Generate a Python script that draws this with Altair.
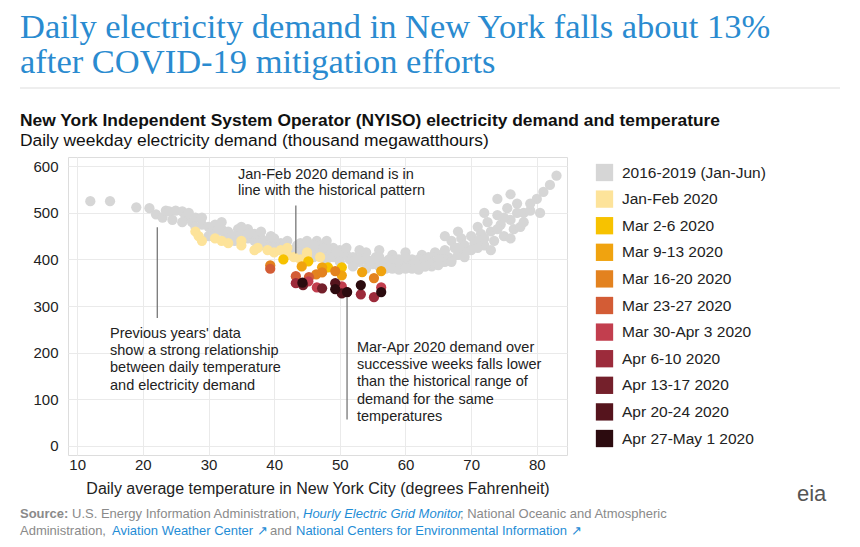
import altair as alt
import pandas as pd

groups = ["2016-2019 (Jan-Jun)", "Jan-Feb 2020", "Mar 2-6 2020", "Mar 9-13 2020", "Mar 16-20 2020",
          "Mar 23-27 2020", "Mar 30-Apr 3 2020", "Apr 6-10 2020", "Apr 13-17 2020", "Apr 20-24 2020",
          "Apr 27-May 1 2020"]
palette = ["#d6d6d6", "#fde39a", "#f7c200", "#f0a30f", "#e3821f", "#d35c35", "#c23e4e", "#9c2b3b",
           "#74202b", "#55141d", "#2c0b0f"]

gray_t = [12, 15, 19, 21, 22, 23, 23.5, 24, 25, 26, 26.5, 24.5, 27, 27.5, 28, 29, 30, 30.5, 31, 32, 32.5, 33,
          34, 34.5, 35, 36, 36.5, 37, 38, 38.5, 39, 40, 40.5, 41, 42, 43, 43.5, 44, 45, 46, 46.5, 47, 48, 48.5,
          49, 50, 51, 51.5, 52, 53, 53.5, 54, 55, 55.5, 56, 57, 58, 58.5, 59, 60, 60.5, 61, 62, 62.5, 63, 63.5,
          64, 64.5, 65, 65.5, 66, 66.5, 67, 67.5, 68, 68.5, 69, 69.5, 70, 70.5, 71, 71.5, 72, 72.5, 73, 73.5,
          74, 74.5, 75, 75.5, 76, 76.5, 77, 77.5, 78, 79, 80, 80.5, 81, 82, 83, 66, 68, 60, 56, 72, 74, 76,
          30, 31, 33, 35, 37, 39, 41, 42, 44, 45, 47, 49, 50, 52, 54, 56, 57, 59, 61, 63, 66, 71, 73, 76, 78,
          67, 69, 64, 62, 58, 53, 48, 46, 45, 38, 36, 32, 29, 26, 28, 35, 40,
          31.5, 33.5, 36, 38, 40, 42.5, 44.5, 46, 48, 50.5, 52.5, 54.5, 57.5, 60, 62, 64, 66, 68, 70, 72,
          34, 37.5, 41.5, 43, 47.5, 49.5, 55, 61.5, 65, 69, 71, 74, 75, 77, 79, 58, 63, 67, 51, 39.5,
          52, 54, 57, 59, 61, 63, 65, 60, 62, 56, 50, 48]
gray_d = [525, 525, 512, 510, 497, 490, 505, 503, 505, 503, 492, 485, 500, 480, 490, 475, 470, 460, 455, 465,
          455, 460, 450, 465, 455, 445, 450, 440, 445, 430, 440, 430, 420, 435, 425, 420, 430, 420, 425, 420,
          440, 430, 415, 410, 405, 420, 410, 400, 405, 395, 410, 400, 390, 405, 395, 395, 390, 400, 385, 395,
          390, 400, 395, 410, 390, 405, 395, 415, 410, 395, 420, 405, 440, 425, 410, 445, 430, 420, 450, 435,
          470, 455, 430, 480, 460, 440, 495, 475, 450, 510, 485, 465, 520, 470, 500, 505, 530, 500, 545, 560,
          580, 450, 460, 415, 420, 500, 530, 540,
          450, 475, 445, 440, 455, 425, 420, 440, 435, 410, 420, 425, 405, 395, 415, 405, 390, 400, 385, 400,
          395, 440, 420, 445, 480, 400, 415, 385, 385, 410, 420, 440, 405, 440, 460, 465, 480, 490, 480, 470,
          470, 445,
          465, 450, 455, 440, 425, 415, 430, 430, 425, 415, 400, 390, 400, 405, 400, 390, 400, 425, 420, 445,
          440, 435, 430, 412, 425, 415, 398, 392, 400, 405, 425, 465, 490, 500, 520, 380, 385, 395, 425, 450,
          385, 380, 380, 378, 380, 385, 388, 380, 378, 385, 395, 400]

jan_t = [28, 28.5, 29, 31, 32, 33, 35, 35, 37, 37.5, 39, 40, 41, 42, 42, 43, 44, 45, 45, 47]
jan_d = [460, 450, 440, 445, 440, 435, 430, 440, 420, 425, 420, 415, 420, 410, 425, 405, 400, 410, 415, 405]
mar2_t = [41.4, 45.2, 48.2, 50.3]
mar2_d = [400, 396, 383, 383]
mar9_t = [44.2, 47.3, 50.3, 53.4, 56.3]
mar9_d = [385, 383, 366, 373, 375]
mar16_t = [39.4, 46.4, 47.3, 49.3, 55.2]
mar16_d = [387, 368, 372, 375, 360]
mar23_t = [39.4, 43.3, 45.3]
mar23_d = [380, 364, 362]
mar30_t = [45.2, 46.5, 50.3, 56.3]
mar30_d = [353, 340, 342, 340]
apr6_t = [43.3, 51.1, 53.2, 55.2]
apr6_d = [349, 330, 325, 319]
apr13_t = [44.4, 47.3]
apr13_d = [345, 338]
apr20_t = [49.3, 50.3]
apr20_d = [349, 327]
apr27_t = [44.3, 49.3, 51.1, 53.2, 56.3]
apr27_d = [350, 336, 330, 345, 330]

series = [(gray_t, gray_d), (jan_t, jan_d), (mar2_t, mar2_d), (mar9_t, mar9_d), (mar16_t, mar16_d),
          (mar23_t, mar23_d), (mar30_t, mar30_d), (apr6_t, apr6_d), (apr13_t, apr13_d), (apr20_t, apr20_d),
          (apr27_t, apr27_d)]
rows = []
for g, (ts, ds) in zip(groups, series):
    for t, d in zip(ts, ds):
        rows.append({"group": g, "temp": t, "demand": d})
df = pd.DataFrame(rows)

FONT = "Liberation Sans"
xs = alt.Scale(domain=[8.6, 84.6], nice=False, zero=False)
ys = alt.Scale(domain=[-20, 620], nice=False, zero=False)

points = alt.Chart(df).mark_circle(size=105, opacity=1).encode(
    x=alt.X("temp:Q", scale=xs, title="Daily average temperature in New York City (degrees Fahrenheit)",
            axis=alt.Axis(values=list(range(10, 81, 10)), domain=False, ticks=False, labelFontSize=15,
                          labelColor="#222", titleFontSize=16, titleFontWeight="normal", titleColor="#222",
                          titlePadding=8, gridColor="#eaeaea", labelFont=FONT, titleFont=FONT)),
    y=alt.Y("demand:Q", scale=ys, title=None,
            axis=alt.Axis(values=list(range(0, 601, 100)), domain=False, ticks=False, labelFontSize=15,
                          labelColor="#222", gridColor="#eaeaea", labelFont=FONT, labelPadding=10)),
    color=alt.Color("group:N", scale=alt.Scale(domain=groups, range=palette), sort=groups,
                    legend=alt.Legend(title=None, orient="none", legendX=527, legendY=6, symbolType="square",
                                      symbolSize=300, labelFontSize=15.5, labelFont=FONT, labelColor="#222",
                                      rowPadding=7.6, labelOffset=8)),
)

rule_df = pd.DataFrame({"t": [22.2, 43.3, 51.1], "y1": [469, 516, 319], "y2": [274, 413, 56]})
rules = alt.Chart(rule_df).mark_rule(color="#777", strokeWidth=1.3).encode(
    x="t:Q", y="y1:Q", y2="y2:Q")

ann_df = pd.DataFrame({
    "t": [34.5] * 2 + [15] * 4 + [52.6] * 5,
    "d": [582, 548, 240, 203, 166, 129, 210, 173, 136, 99, 62],
    "txt": ["Jan-Feb 2020 demand is in", "line with the historical pattern",
            "Previous years' data", "show a strong relationship", "between daily temperature",
            "and electricity demand",
            "Mar-Apr 2020 demand over", "successive weeks falls lower", "than the historical range of",
            "demand for the same", "temperatures"],
})
ann = alt.Chart(ann_df).mark_text(align="left", baseline="middle", fontSize=14.5, font=FONT, color="#222").encode(
    x="t:Q", y="d:Q", text="txt:N")

# page furniture in pixel space (relative to plot origin)
txt_df = pd.DataFrame([
    {"x": -48, "y": -119, "s": "Daily electricity demand in New York falls about 13%", "k": "head"},
    {"x": -48, "y": -84, "s": "after COVID-19 mitigation efforts", "k": "head"},
    {"x": -48, "y": -31, "s": "New York Independent System Operator (NYISO) electricity demand and temperature", "k": "sub"},
    {"x": -48, "y": -11, "s": "Daily weekday electricity demand (thousand megawatthours)", "k": "sub2"},
    {"x": -48, "y": 361, "s": "Source:", "k": "srcb"},
    {"x": 4, "y": 361, "s": "U.S. Energy Information Administration,", "k": "src"},
    {"x": 235, "y": 361, "s": "Hourly Electric Grid Monitor", "k": "link_i"},
    {"x": 392, "y": 361, "s": "; National Oceanic and Atmospheric", "k": "src"},
    {"x": -48, "y": 378, "s": "Administration,", "k": "src"},
    {"x": 44, "y": 378, "s": "Aviation Weather Center \u2197", "k": "link"},
    {"x": 202, "y": 378, "s": "and", "k": "src"},
    {"x": 228, "y": 378, "s": "National Centers for Environmental Information \u2197", "k": "link"},
    {"x": 729, "y": 344, "s": "eia", "k": "eia"},
])
def layer_text(kind, size, color, weight="normal", style="normal", font=FONT):
    return alt.Chart(txt_df[txt_df.k == kind]).mark_text(
        align="left", baseline="alphabetic", fontSize=size, color=color, fontWeight=weight,
        fontStyle=style, font=font).encode(x=alt.X("x:Q", scale=None), y=alt.Y("y:Q", scale=None), text="s:N")

texts = [
    layer_text("head", 34.5, "#2a8bd0", font="Liberation Serif"),
    layer_text("sub", 17.4, "#111", weight="bold"),
    layer_text("sub2", 17.4, "#111"),
    layer_text("srcb", 13, "#8a8a8a", weight="bold"),
    layer_text("src", 13, "#8a8a8a"),
    layer_text("link_i", 13, "#1f8dd6", style="italic"),
    layer_text("link", 13, "#1f8dd6"),
    layer_text("eia", 22, "#555"),
]

sep_df = pd.DataFrame({"x1": [-48, -48], "x2": [772, 772], "y": [-69, 383]})
seps = alt.Chart(sep_df).mark_rule(color="#ddd").encode(
    x=alt.X("x1:Q", scale=None), x2="x2:Q", y=alt.Y("y:Q", scale=None))

chart = alt.layer(points, rules, ann, seps, *texts).properties(
    width=499, height=298,
    autosize=alt.AutoSizeParams(type="none"),
    padding={"left": 60, "top": 149, "right": 284, "bottom": 84},
).configure_view(stroke="#e6e6e6").configure(background="white")

chart.save("out.html", embed_options={"renderer": "svg", "actions": False})
